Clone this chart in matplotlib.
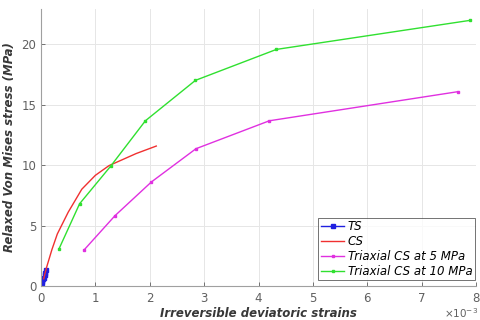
import matplotlib
matplotlib.use("Agg")
import matplotlib.pyplot as plt

ts_x = [0.0, 0.01, 0.02, 0.03, 0.05, 0.07, 0.08, 0.09]
ts_y = [0.1, 0.25, 0.4, 0.55, 0.7, 0.9, 1.1, 1.3]

cs_x = [0.05, 0.1, 0.2, 0.3, 0.5, 0.75, 1.0, 1.25, 1.5, 1.75, 2.12]
cs_y = [0.6, 1.5, 3.0, 4.3, 6.1, 8.0, 9.15, 9.95, 10.45, 10.95, 11.57]

t5_x = [0.79, 1.36, 2.03, 2.85, 4.2, 7.66]
t5_y = [2.97, 5.81, 8.6, 11.35, 13.66, 16.06]

t10_x = [0.33, 0.71, 1.28, 1.92, 2.84, 4.33, 7.89]
t10_y = [3.06, 6.8, 9.9, 13.66, 17.0, 19.56, 21.96]

xticks = [0, 1, 2, 3, 4, 5, 6, 7, 8]
yticks = [0, 5, 10, 15, 20]

fig = plt.figure(figsize=(4.8, 3.2), dpi=100)
ax = fig.add_axes([41/480, 34/320, 435/480, 277/320])

ax.plot(ts_x, ts_y, color="#2020e0", lw=1.0, marker="s", ms=2.5, label="TS")
ax.plot(cs_x, cs_y, color="#f03030", lw=1.0, label="CS")
ax.plot(t5_x, t5_y, color="#e030e0", lw=1.0, marker="s", ms=1.8, label="Triaxial CS at 5 MPa")
ax.plot(t10_x, t10_y, color="#30e030", lw=1.0, marker="s", ms=1.8, label="Triaxial CS at 10 MPa")

ax.set_xlim(0, 8)
ax.set_ylim(0, 22.9)
ax.set_xticks(xticks)
ax.set_yticks(yticks)
ax.grid(True, color="#e6e6e6", lw=0.7)
ax.set_axisbelow(True)
for s in ["top", "right"]:
    ax.spines[s].set_visible(False)
for s in ["left", "bottom"]:
    ax.spines[s].set_color("#a0a0a0")
    ax.spines[s].set_linewidth(0.8)
ax.tick_params(colors="#606060", labelsize=8.5, length=3, width=0.6, direction="in")
ax.tick_params(axis="x", pad=4)

ax.set_xlabel("Irreversible deviatoric strains", fontsize=8.5, fontweight="bold",
              fontstyle="italic", color="#383838", labelpad=2)
ax.set_ylabel("Relaxed Von Mises stress (MPa)", fontsize=8.5, fontweight="bold",
              fontstyle="italic", color="#383838", labelpad=4)

fig.text(478/480, 1 - 313/320, r"$\times10^{-3}$", fontsize=7.5, color="#606060",
         ha="right", va="center")

leg = ax.legend(loc="lower right", bbox_to_anchor=(434/435, 6/277),
                prop={"style": "italic", "size": 8.5}, frameon=True, fancybox=False,
                borderpad=0.2, labelspacing=0.15, handlelength=2.0, handletextpad=0.3,
                borderaxespad=0)
leg.get_frame().set_edgecolor("#333333")
leg.get_frame().set_linewidth(0.6)

fig.savefig("out.png", dpi=100)
